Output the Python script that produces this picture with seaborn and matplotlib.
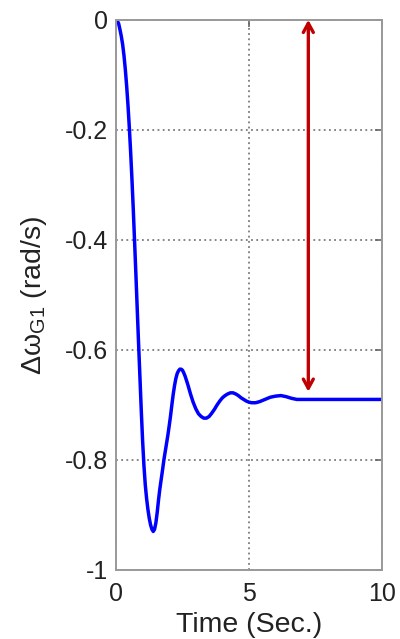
import matplotlib
matplotlib.use("Agg")
import matplotlib.pyplot as plt
import seaborn as sns
import pandas as pd

# ---- data ----
time_s = [0.00, 0.05, 0.10, 0.15, 0.20, 0.25, 0.30, 0.35, 0.40, 0.45, 0.50,
          0.55, 0.60, 0.65, 0.70, 0.75, 0.80, 0.85, 0.90, 0.95, 1.00, 1.05,
          1.10, 1.15, 1.20, 1.25, 1.30, 1.35, 1.40, 1.45, 1.50, 1.55, 1.60,
          1.65, 1.70, 1.75, 1.80, 1.85, 1.90, 1.95, 2.00, 2.05, 2.10, 2.15,
          2.20, 2.25, 2.30, 2.35, 2.40, 2.45, 2.50, 2.55, 2.60, 2.70, 2.80,
          2.90, 3.00, 3.10, 3.20, 3.30, 3.40, 3.50, 3.60, 3.70, 3.80, 3.90,
          4.00, 4.10, 4.20, 4.30, 4.40, 4.50, 4.60, 4.70, 4.80, 4.90, 5.00,
          5.10, 5.25, 5.40, 5.60, 5.80, 6.00, 6.20, 6.40, 6.60, 6.80, 7.00,
          7.50, 8.00, 9.00, 10.00]
delta_omega = [0.000, -0.002, -0.007, -0.018, -0.030, -0.045, -0.065, -0.090,
               -0.120, -0.155, -0.195, -0.240, -0.290, -0.345, -0.405, -0.465,
               -0.528, -0.590, -0.650, -0.710, -0.765, -0.810, -0.845, -0.870,
               -0.890, -0.906, -0.918, -0.926, -0.930, -0.926, -0.914, -0.895,
               -0.872, -0.852, -0.835, -0.818, -0.800, -0.785, -0.770, -0.755,
               -0.738, -0.720, -0.700, -0.681, -0.665, -0.652, -0.643, -0.638,
               -0.635, -0.635, -0.637, -0.642, -0.648, -0.663, -0.680, -0.695,
               -0.707, -0.716, -0.721, -0.724, -0.724, -0.721, -0.715, -0.708,
               -0.700, -0.693, -0.687, -0.683, -0.680, -0.678, -0.678, -0.680,
               -0.683, -0.687, -0.690, -0.693, -0.695, -0.696, -0.696, -0.694,
               -0.690, -0.686, -0.684, -0.683, -0.685, -0.688, -0.690, -0.690,
               -0.690, -0.690, -0.690, -0.690]

x_ticks = [0, 5, 10]
x_tick_labels = ["0", "5", "10"]
y_ticks = [0, -0.2, -0.4, -0.6, -0.8, -1]
y_tick_labels = ["0", "-0.2", "-0.4", "-0.6", "-0.8", "-1"]

arrow_x = 7.23
arrow_top = 0.0
arrow_bottom = -0.676

df = pd.DataFrame({"t": time_s, "w": delta_omega})

sns.set_theme(style="white")
plt.rcParams["font.family"] = ["Liberation Sans", "DejaVu Sans"]
plt.rcParams["mathtext.fontset"] = "custom"
plt.rcParams["mathtext.rm"] = "Liberation Sans"
plt.rcParams["mathtext.it"] = "Liberation Sans"

fig = plt.figure(figsize=(4.0, 6.39), dpi=100)
ax = fig.add_axes([0.29, 0.108, 0.665, 0.861])

sns.lineplot(data=df, x="t", y="w", ax=ax, color="#0000FF", linewidth=2.5,
             sort=False, estimator=None)

ax.annotate("", xy=(arrow_x, arrow_top), xytext=(arrow_x, arrow_bottom),
            arrowprops=dict(arrowstyle="<->,head_length=0.55,head_width=0.3",
                            color="#C00000", lw=2.4, shrinkA=0, shrinkB=0))

ax.set_xlim(0, 10)
ax.set_ylim(-1, 0)
ax.set_xticks(x_ticks)
ax.set_xticklabels(x_tick_labels)
ax.set_yticks(y_ticks)
ax.set_yticklabels(y_tick_labels)

ax.grid(True, linestyle=(0, (1.2, 2.2)), color="#666666", linewidth=1.1)
ax.set_axisbelow(True)
for s in ax.spines.values():
    s.set_color("#999999")
    s.set_linewidth(1.4)

ax.tick_params(direction="in", length=5, width=1.2, color="#666666",
               labelsize=18, labelcolor="#222222", top=True, right=True)
ax.tick_params(axis="x", pad=9)
ax.tick_params(axis="y", pad=6)

ax.set_xlabel("Time (Sec.)", fontsize=20.5, color="#222222", labelpad=4)
ax.set_ylabel(r"Δω$_{\rm G1}$ (rad/s)", fontsize=20.5, color="#222222",
              labelpad=11)

fig.savefig("out.png", dpi=100, facecolor="white")
